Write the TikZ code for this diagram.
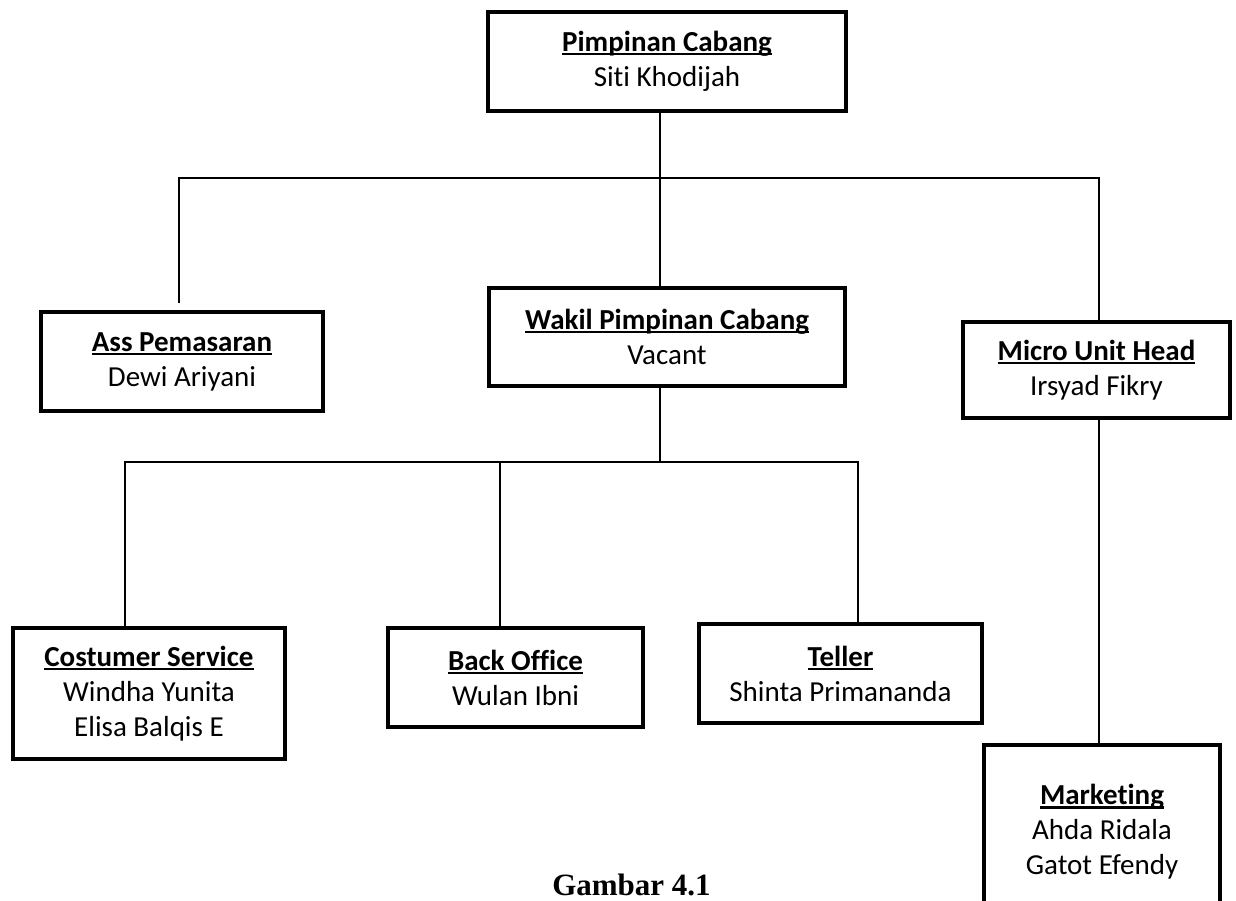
\documentclass[tikz,border=0pt]{standalone}
\usepackage{fontspec}
\setmainfont{Carlito}[Ligatures={NoCommon,NoContextual,NoRequired}, RawFeature={-liga;-clig;-dlig}]
\newfontfamily\capfont{Liberation Serif}
\usetikzlibrary{positioning}

\newcommand{\jabatan}[1]{\setbox0\hbox{\bfseries #1}\rlap{\rule[-0.13em]{\wd0}{0.075em}}\box0}

\begin{document}
\begin{tikzpicture}[x=1pt, y=-1pt, every node/.style={font=\fontsize{29}{35}\selectfont},
      box/.style={draw=black, line width=4pt, inner sep=0pt, align=center, minimum height=99pt},
      link/.style={draw=black, line width=1.4pt}]
    \useasboundingbox (0,0) rectangle (1236,900);
    \coordinate (trunk) at (660,0);
    \coordinate (bar1w) at (179,178);
    \coordinate (bar1e) at (1099,178);
    \coordinate (assend) at (179,303);
    \coordinate (bar2w) at (125,462);
    \coordinate (bar2e) at (858,462);
    \coordinate (bodrop) at (500,462);
    \node[box, minimum width=358pt] (pc) at (667,61.5) {\jabatan{Pimpinan Cabang}\\Siti Khodijah};
    \node[box, minimum width=282pt] (ass) at (182,361.5) {\jabatan{Ass Pemasaran}\\Dewi Ariyani};
    \node[box, minimum width=356pt, minimum height=98pt] (wpc) at (667,337) {\jabatan{Wakil Pimpinan Cabang}\\Vacant};
    \node[box, minimum width=267pt, minimum height=96pt] (muh) at (1096.5,370) {\jabatan{Micro Unit Head}\\Irsyad Fikry};
    \node[box, minimum width=272pt, minimum height=131pt] (cs) at (149,693.5) {\jabatan{Costumer Service}\\Windha Yunita\\Elisa Balqis E};
    \node[box, minimum width=255pt] (bo) at (515.5,677.5) {\jabatan{Back Office}\\Wulan Ibni};
    \node[box, minimum width=283pt] (tel) at (840.5,673.5) {\jabatan{Teller}\\Shinta Primananda};
    \node[box, minimum width=236pt, minimum height=174pt] (mkt) at (1102,832) {\jabatan{Marketing}\\Ahda Ridala\\Gatot Efendy};
    \node[font=\capfont\bfseries\fontsize{31}{37}\selectfont, anchor=base] (cap) at (631.5,895) {Gambar 4.1};
    % connectors
    \draw[link] (pc.south -| trunk) -- (wpc.north -| trunk);
    \draw[link] (assend) -- (bar1w) -- (bar1e) -- (bar1e |- muh.north);
    \draw[link] (wpc.south -| trunk) -- (trunk |- bar2w);
    \draw[link] (cs.north -| bar2w) -- (bar2w) -- (bar2e) -- (bar2e |- tel.north);
    \draw[link] (bodrop) -- (bodrop |- bo.north);
    \draw[link] (muh.south -| bar1e) -- (bar1e |- mkt.north);
\end{tikzpicture}
\end{document}
